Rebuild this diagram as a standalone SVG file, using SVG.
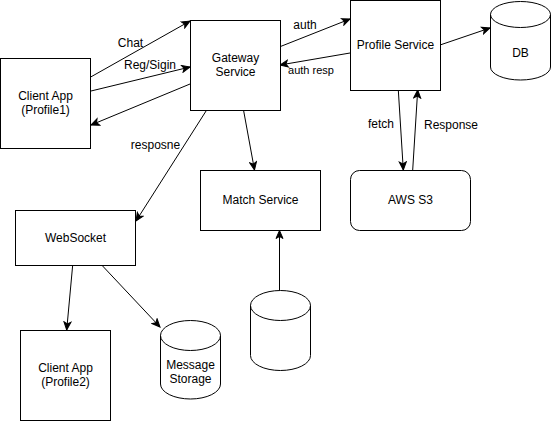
<svg xmlns="http://www.w3.org/2000/svg" width="551" height="421" viewBox="0 0 551 421">
<style>
.box{fill:#fff;stroke:#000;stroke-width:1}
.t{font-family:"Liberation Sans",Arial,sans-serif;font-size:12px;fill:#000;text-anchor:middle}
.s{font-size:11px}
.e{fill:none;stroke:#000;stroke-width:1;marker-end:url(#arr)}
</style>
<defs>
<marker id="arr" markerUnits="userSpaceOnUse" viewBox="0 0 10 9" refX="9" refY="4.5" markerWidth="10" markerHeight="9" orient="auto">
<path d="M1,1 L9,4.5 L1,8 L3,4.5 Z" fill="#000" stroke="#000" stroke-width="1" stroke-linejoin="miter"/>
</marker>
</defs>
<rect width="551" height="421" fill="#fff"/>
<g id="connectors">
<path class="e" d="M90.7,77 L190,21"/>
<path class="e" d="M91,91 L190,67"/>
<path class="e" d="M190,84 L91,125"/>
<path class="e" d="M206.7,110 L136,221"/>
<path class="e" d="M243.5,110 L254.5,170"/>
<path class="e" d="M280,46.7 L350,19"/>
<path class="e" d="M350,53 L280,65"/>
<path class="e" d="M440,45 L490,28"/>
<path class="e" d="M398.3,90 L403.3,170"/>
<path class="e" d="M412.7,170 L417.7,90"/>
<path class="e" d="M279.5,290 L279.5,230.5"/>
<path class="e" d="M72.7,265 L66.7,330"/>
<path class="e" d="M101.7,265 L160,327"/>
<text class="t" x="130.5" y="47">Chat</text>
<text class="t" x="150" y="69">Reg/Sigin</text>
<text class="t" x="155.5" y="148.5">resposne</text>
<text class="t" x="305" y="28.5">auth</text>
<text class="t s" x="311" y="74">auth resp</text>
<text class="t" x="381" y="127.5">fetch</text>
<text class="t" x="451" y="129">Response</text>
</g>
<g id="client1">
<rect class="box" x="0.5" y="58.5" width="90" height="90"/>
<text class="t" x="45.5" y="100.3">Client App</text>
<text class="t" x="45.5" y="114.3">(Profile1)</text>
</g>
<g id="gateway">
<rect class="box" x="190.5" y="20.5" width="90" height="90"/>
<text class="t" x="235.5" y="62.3">Gateway</text>
<text class="t" x="235.5" y="76.3">Service</text>
</g>
<g id="profile">
<rect class="box" x="350.5" y="0.5" width="90" height="90"/>
<text class="t" x="395.5" y="49.3">Profile Service</text>
</g>
<g id="db">
<path class="box" d="M490.5,14.5 A30,13 0 0 1 550.5,14.5 L550.5,67 A30,13 0 0 1 490.5,67 Z"/>
<path class="box" style="fill:none" d="M490.5,14.5 A30,13 0 0 0 550.5,14.5"/>
<text class="t" x="520.5" y="57">DB</text>
</g>
<g id="awss3">
<rect class="box" x="350.5" y="170.5" width="120" height="60" rx="9" ry="9"/>
<text class="t" x="410.5" y="204.3">AWS S3</text>
</g>
<g id="match">
<rect class="box" x="200.5" y="170.5" width="120" height="60"/>
<text class="t" x="260.5" y="204.3">Match Service</text>
</g>
<g id="websocket">
<rect class="box" x="15.5" y="210.5" width="120" height="55"/>
<text class="t" x="75.5" y="242">WebSocket</text>
</g>
<g id="client2">
<rect class="box" x="20.5" y="330.5" width="90" height="90"/>
<text class="t" x="65.5" y="372.3">Client App</text>
<text class="t" x="65.5" y="386.3">(Profile2)</text>
</g>
<g id="messagestorage">
<path class="box" d="M160.5,335.5 A30,15 0 0 1 220.5,335.5 L220.5,384 A30,15 0 0 1 160.5,384 Z"/>
<path class="box" style="fill:none" d="M160.5,335.5 A30,15 0 0 0 220.5,335.5"/>
<text class="t" x="190.5" y="369">Message</text>
<text class="t" x="190.5" y="383">Storage</text>
</g>
<g id="cylinder">
<path class="box" d="M250.5,305.5 A30,15 0 0 1 310.5,305.5 L310.5,355.5 A30,15 0 0 1 250.5,355.5 Z"/>
<path class="box" style="fill:none" d="M250.5,305.5 A30,15 0 0 0 310.5,305.5"/>
</g>
</svg>
